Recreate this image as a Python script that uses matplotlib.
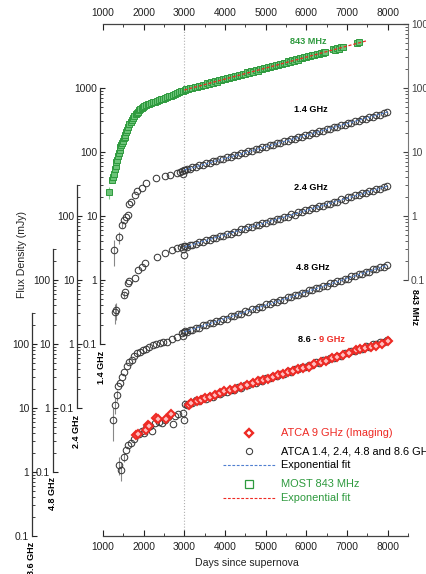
import matplotlib
matplotlib.use('Agg')
import matplotlib.pyplot as plt
from matplotlib.ticker import FixedLocator, FixedFormatter, NullFormatter
from matplotlib.lines import Line2D

plt.rcParams['font.family'] = ['Liberation Sans', 'DejaVu Sans']

# ---------------- data ----------------
late_days = [3010, 3060, 3130, 3200, 3290, 3370, 3450, 3540, 3620, 3700, 3790, 3880, 3960,
             4050, 4140, 4220, 4310, 4400, 4490, 4570, 4660, 4750, 4840, 4920, 5010, 5100,
             5190, 5270, 5360, 5450, 5540, 5620, 5710, 5800, 5890, 5970, 6060, 6150, 6240,
             6320, 6410, 6500, 6590, 6670, 6760, 6850, 6940, 7020, 7110, 7200, 7290, 7370,
             7460, 7550, 7640, 7720, 7810, 7900, 7990]

flux14_late = [51.8, 55.0, 54.6, 58.1, 58.2, 62.5, 61.9, 66.8, 66.5, 71.5, 71.7, 76.9, 77.0,
               82.6, 83.0, 89.0, 88.7, 95.8, 95.6, 102.9, 103.0, 110.5, 110.4, 119.0, 118.8, 128.2,
               128.0, 137.6, 136.5, 148.3, 149.0, 159.6, 158.7, 171.5, 170.9, 184.2, 183.5, 199.0, 197.6,
               213.3, 211.8, 230.1, 228.6, 247.0, 244.9, 266.3, 263.8, 285.9, 283.7, 309.1, 306.0, 330.8,
               328.9, 356.5, 354.7, 382.6, 381.0, 412.0, 421.0]
flux24_late = [33.5, 33.0, 35.3, 35.1, 36.6, 39.4, 39.3, 42.5, 42.2, 45.6, 45.5, 49.3, 49.0,
               53.1, 53.0, 57.2, 57.1, 61.9, 61.8, 66.7, 66.5, 72.2, 71.9, 77.8, 77.5, 84.2,
               83.9, 90.7, 89.6, 98.1, 97.9, 105.7, 105.3, 114.4, 114.0, 123.2, 122.8, 133.4, 132.9,
               143.7, 143.2, 155.5, 154.9, 167.5, 166.9, 181.3, 180.6, 195.3, 194.6, 211.3, 210.6, 227.6,
               226.8, 246.4, 245.5, 265.4, 264.4, 287.2, 293.0]
flux48_late = [15.8, 15.5, 16.8, 16.6, 18.1, 18.0, 19.6, 19.5, 21.3, 21.1, 23.0, 23.0, 25.0,
               25.0, 27.3, 27.1, 29.6, 29.5, 32.3, 32.1, 35.0, 35.0, 38.2, 38.0, 41.5, 41.5,
               45.3, 45.0, 49.1, 48.9, 53.6, 53.3, 58.2, 58.1, 63.4, 63.0, 68.8, 68.7, 75.1,
               74.6, 81.5, 81.3, 88.9, 88.4, 96.5, 96.3, 105.2, 104.6, 114.2, 114.0, 124.5, 123.8,
               135.2, 135.0, 147.4, 146.5, 160.1, 159.8, 171.0]
flux86_late = [11.5, 11.2, 12.1, 11.9, 13.1, 12.9, 14.1, 14.0, 15.2, 15.1, 16.5, 16.4, 17.8,
               17.8, 19.4, 19.3, 21.0, 20.9, 22.9, 22.7, 24.7, 24.7, 26.9, 26.7, 29.1, 29.1,
               31.7, 31.5, 34.3, 34.2, 37.3, 37.1, 40.4, 40.3, 43.9, 43.6, 47.5, 47.4, 51.7,
               51.3, 56.0, 55.9, 60.9, 60.5, 65.9, 65.8, 71.7, 71.2, 77.7, 77.5, 84.4, 83.8,
               91.4, 91.2, 99.4, 98.8, 107.6, 107.4, 115.0]

days14_early = [1269, 1391, 1465, 1514, 1560, 1612, 1636, 1700, 1783, 1832, 1954, 2052, 2297,
                2517, 2639, 2811, 2900, 2950, 2975, 2990]
flux14_early = [2.94, 4.7, 7.2, 8.7, 9.6, 10.4, 15.4, 16.5, 21.3, 24.6, 27.4, 32.8, 39.2,
                42.2, 43.6, 47.0, 48.5, 50.0, 45.0, 51.5]
err14_early = [1.3, 1.0, 0.8, 0, 0, 0, 0, 0, 0, 0, 0, 0, 0, 0, 0, 0, 0, 0, 0, 0]

days24_early = [1294, 1330, 1514, 1530, 1612, 1636, 1783, 1856, 1954, 2028, 2321, 2517, 2688,
                2811, 2920, 2960, 2980, 2995]
flux24_early = [3.16, 3.4, 5.8, 6.4, 9.0, 9.5, 10.7, 14.3, 16.0, 18.4, 22.9, 26.4, 29.4,
                31.6, 32.5, 30.0, 25.0, 33.5]
err24_early = [1.1, 1.0, 0.6, 0, 0, 0, 0, 0, 0, 0, 0, 0, 0, 0, 0, 0, 0, 0]

days48_early = [1245, 1294, 1343, 1367, 1416, 1460, 1520, 1587, 1650, 1710, 1770, 1832, 1900,
                1979, 2050, 2120, 2224, 2300, 2395, 2480, 2566, 2700, 2811, 2933, 2960, 2985]
flux48_early = [0.65, 1.11, 1.6, 2.2, 2.5, 3.0, 3.6, 4.5, 5.2, 5.6, 6.5, 7.2, 7.4,
                8.0, 8.3, 8.9, 9.6, 9.9, 10.4, 10.6, 10.8, 12.0, 12.9, 14.9, 13.4, 15.2]
err48_early = [0.35, 0.3, 0.3, 0, 0, 0, 0, 0, 0, 0, 0, 0, 0, 0, 0, 0, 0, 0, 0, 0, 0, 0, 0, 0, 0, 0]

days86_early = [1391, 1440, 1514, 1563, 1612, 1685, 1760, 1880, 1950, 2000, 2060, 2150, 2200,
                2280, 2380, 2444, 2520, 2600, 2713, 2760, 2850, 2958, 2990]
flux86_early = [1.29, 1.07, 1.71, 2.2, 2.6, 2.84, 3.3, 3.9, 4.4, 4.1, 4.9, 5.3, 4.3,
                5.8, 6.1, 5.9, 6.6, 7.2, 5.6, 7.6, 8.0, 8.3, 6.6]
err86_early = [0.4, 0.35, 0.3, 0, 0, 0, 0, 0, 0, 0, 0, 0, 0, 0, 0, 0, 0, 0, 0, 0, 0, 0, 0]

days9 = [1808, 1850, 2069, 2109, 2140, 2313, 2350, 2558, 2681, 3104, 3160, 3300, 3420, 3500,
         3640, 3750, 3870, 3985, 4120, 4250, 4400, 4548, 4680, 4800, 4930, 5050, 5180, 5300,
         5430, 5550, 5680, 5800, 5930, 6065, 6200, 6350, 6480, 6628, 6760, 6900, 7050, 7215,
         7330, 7450, 7580, 7705, 7850, 7998]
flux9 = [3.79, 3.95, 4.53, 5.42, 5.2, 6.9, 6.7, 6.8, 8.06, 11.1, 11.8, 13.0, 13.5, 14.5,
         15.0, 16.0, 17.2, 18.5, 19.0, 20.0, 21.5, 22.9, 24.5, 26.0, 27.0, 28.0, 30.5, 32.5,
         34.0, 36.0, 38.5, 41.0, 42.5, 44.5, 48.5, 52.0, 55.0, 60.0, 63.0, 67.0, 73.0, 80.0,
         83.0, 87.0, 90.0, 92.0, 101.0, 111.0]

days843 = [1147, 1230, 1250, 1270, 1290, 1310, 1330, 1350, 1370, 1390, 1410, 1430, 1450, 1470,
           1490, 1510, 1530, 1550, 1575, 1600, 1625, 1650, 1680, 1710, 1740, 1770, 1800, 1830,
           1860, 1890, 1920, 1950, 1985, 2020, 2060, 2100, 2140, 2180, 2224, 2270, 2320, 2370,
           2420, 2470, 2520, 2566, 2620, 2670, 2720, 2770, 2811, 2860, 2910, 2960, 3006,
           3050, 3100, 3150, 3200, 3250, 3300, 3350, 3400, 3450, 3500, 3550, 3600, 3650, 3700,
           3750, 3800, 3850, 3900, 3950, 4000, 4050, 4100, 4150, 4200, 4250, 4300, 4350, 4400,
           4450, 4500, 4550, 4600, 4650, 4700, 4750, 4800, 4850, 4900, 4950, 5000, 5050, 5100,
           5150, 5200, 5250, 5300, 5350, 5400, 5450, 5500, 5550, 5600, 5650, 5700, 5750, 5800,
           5850, 5900, 5950, 6000, 6050, 6100, 6150, 6200, 6250, 6300, 6350, 6400, 6430, 6450,
           6650, 6700, 6750, 6800, 6850, 6900, 7250, 7300]
flux843 = [2.37, 3.6, 4.1, 4.6, 5.4, 6.0, 6.9, 7.6, 8.7, 9.5, 10.6, 11.8, 12.8, 14.0,
           15.0, 16.3, 17.0, 18.6, 20.5, 22.4, 24.5, 27.0, 29.5, 32.0, 34.5, 36.5, 38.8, 40.7,
           42.5, 44.8, 46.5, 48.6, 50.5, 52.0, 53.8, 55.5, 57.0, 58.5, 60.4, 61.5, 63.5, 65.0,
           67.0, 68.5, 70.5, 72.3, 74.0, 76.0, 79.0, 81.5, 83.6, 86.0, 88.5, 91.0, 93.0,
           95.8, 95.5, 99.9, 99.6, 104.0, 103.6, 108.5, 107.9, 112.9, 112.0, 117.6, 116.6, 122.4, 121.0,
           127.5, 126.0, 132.5, 131.0, 138.0, 136.5, 143.5, 142.0, 149.0, 147.5, 155.0, 153.8, 161.5, 159.6,
           168.0, 166.3, 174.8, 172.9, 182.0, 179.8, 189.3, 186.9, 197.0, 194.6, 205.0, 202.4, 213.3, 210.6,
           221.8, 219.0, 230.7, 228.0, 240.1, 237.3, 249.8, 246.8, 259.8, 256.8, 270.4, 267.2, 281.2, 278.0,
           292.6, 289.2, 304.4, 300.9, 316.7, 313.0, 329.5, 325.6, 342.8, 338.9, 356.7, 352.5, 371.0, 360.0,
           401.0, 397.0, 417.5, 413.0, 434.0, 430.0, 508.0, 530.0]

fit_days = [3000, 8000]
fit14 = [52.3, 422.0]
fit24 = [32.8, 294.0]
fit48 = [15.4, 171.0]
fit86 = [11.1, 115.0]
fit843_days = [3000, 7500]
fit843 = [93.0, 550.0]

# ---------------- figure ----------------
W, H = 427, 574
fig = plt.figure(figsize=(W / 100, H / 100), dpi=100)
ax = fig.add_axes([103 / W, 1 - 536 / H, 305 / W, 512 / H])
ax.set_xlim(1000, 8465)
ax.set_yscale('log')
ax.set_ylim(1e-5, 1e3)

AXW = 305.0
TICKC = '#222222'
FS = 7.4


def make_axis(scale, spine_px, lo, hi):
    tw = ax.twinx()
    tw.set_yscale('log')
    tw.set_ylim(1e-5 / scale, 1e3 / scale)
    for s in ['top', 'bottom', 'right']:
        tw.spines[s].set_visible(False)
    sp = tw.spines['left']
    sp.set_visible(True)
    sp.set_position(('axes', -spine_px / AXW))
    sp.set_bounds(lo, hi)
    sp.set_color('#333333')
    sp.set_linewidth(0.9)
    majors = [v for v in [0.1, 1, 10, 100, 1000] if lo <= v <= hi]
    labs = [('%g' % v) for v in majors]
    minors = [m * 10.0 ** e for e in range(-1, 3) for m in range(2, 10) if lo <= m * 10.0 ** e <= hi]
    tw.yaxis.set_major_locator(FixedLocator(majors))
    tw.yaxis.set_major_formatter(FixedFormatter(labs))
    tw.yaxis.set_minor_locator(FixedLocator(minors))
    tw.yaxis.set_minor_formatter(NullFormatter())
    tw.yaxis.set_ticks_position('left')
    tw.tick_params(axis='y', which='both', direction='in', left=True, right=False,
                   labelleft=True, labelright=False, colors=TICKC, labelsize=FS, pad=2)
    tw.tick_params(axis='y', which='major', length=3.5, width=0.8)
    tw.tick_params(axis='y', which='minor', length=2, width=0.6)
    return tw


ax14 = make_axis(0.1, 3, 0.1, 1000)
ax24 = make_axis(0.01, 26, 0.1, 300)
ax48 = make_axis(0.001, 50, 0.1, 300)
ax86 = make_axis(0.0001, 71, 0.1, 300)

# main axes: 843 MHz scale on right
ax.spines['left'].set_visible(False)
ax.spines['right'].set_bounds(0.1, 1000)
ax.spines['right'].set_color('#777777')
for s in ['top', 'bottom']:
    ax.spines[s].set_color('#444444')
    ax.spines[s].set_linewidth(0.9)
ax.yaxis.tick_right()
ax.yaxis.set_major_locator(FixedLocator([0.1, 1, 10, 100, 1000]))
ax.yaxis.set_major_formatter(FixedFormatter(['0.1', '1', '10', '100', '1000']))
ax.yaxis.set_minor_locator(FixedLocator([m * 10.0 ** e for e in range(-1, 3) for m in range(2, 10)]))
ax.yaxis.set_minor_formatter(NullFormatter())
ax.tick_params(axis='y', which='both', direction='in', left=False, right=True,
               labelleft=False, labelright=True, colors='#444444', labelsize=FS, pad=2)
ax.tick_params(axis='y', which='major', length=3.5)
ax.tick_params(axis='y', which='minor', length=2)

ax.set_xticks([1000, 2000, 3000, 4000, 5000, 6000, 7000, 8000])
ax.set_xticks([1500, 2500, 3500, 4500, 5500, 6500, 7500, 8500], minor=True)
ax.tick_params(axis='x', which='both', direction='in', top=True, bottom=True,
               labeltop=True, labelbottom=True, colors=TICKC, labelsize=FS, pad=4)
ax.tick_params(axis='x', which='major', length=4)
ax.tick_params(axis='x', which='minor', length=2.5)

# vertical reference line at day 3000
ax.axvline(3000, color='#b0b0b0', linestyle=':', linewidth=0.8, zorder=0)

GREEN = '#2e9a3e'
RED = '#ee2a24'
BLUE = '#4f7fd0'
GREY = '#3a3a3a'

circ = dict(marker='o', linestyle='none', markersize=4.7, markerfacecolor='none',
            markeredgecolor=GREY, markeredgewidth=0.75)

for tw, de, fe, ee, fl, fit in [
        (ax14, days14_early, flux14_early, err14_early, flux14_late, fit14),
        (ax24, days24_early, flux24_early, err24_early, flux24_late, fit24),
        (ax48, days48_early, flux48_early, err48_early, flux48_late, fit48),
        (ax86, days86_early, flux86_early, err86_early, flux86_late, fit86)]:
    tw.errorbar(de, fe, yerr=ee, fmt='none', ecolor='#888888', elinewidth=0.8, capsize=0)
    tw.plot(de, fe, **circ)
    tw.plot(late_days, fl, **circ)
    tw.plot(fit_days, fit, linestyle=(0, (2.5, 1.5)), color=BLUE, linewidth=0.8)

ax86.plot(days9, flux9, marker='D', linestyle='none', markersize=4.2, markerfacecolor='#ffc0c0',
          markeredgecolor=RED, markeredgewidth=1.5)

ax.errorbar(days843[:1], flux843[:1], yerr=[0.5], fmt='none', ecolor='#7fcf8a', elinewidth=0.8)
ax.plot(days843, flux843, marker='s', linestyle='none', markersize=3.7, markerfacecolor='#6cc478',
        markeredgecolor=GREEN, markeredgewidth=0.7)
ax.plot(fit843_days, fit843, linestyle=(0, (2.5, 1.5)), color=RED, linewidth=0.9)


# ---------------- texts ----------------
def fx(px):
    return px / W


def fy(py):
    return 1 - py / H


fig.text(fx(308), fy(41), '843 MHz', color=GREEN, fontsize=6.6, fontweight='bold', ha='center', va='center')
fig.text(fx(311), fy(110), '1.4 GHz', color='black', fontsize=6.6, fontweight='bold', ha='center', va='center')
fig.text(fx(311), fy(187), '2.4 GHz', color='black', fontsize=6.6, fontweight='bold', ha='center', va='center')
fig.text(fx(313), fy(267), '4.8 GHz', color='black', fontsize=6.6, fontweight='bold', ha='center', va='center')
fig.text(fx(319), fy(340), '8.6 - ', color='black', fontsize=6.6, fontweight='bold', ha='right', va='center')
fig.text(fx(319), fy(340), '9 GHz', color=RED, fontsize=6.6, fontweight='bold', ha='left', va='center')

fig.text(fx(102), fy(367), '1.4 GHz', rotation=90, fontsize=6.5, fontweight='bold', ha='center', va='center')
fig.text(fx(77), fy(431), '2.4 GHz', rotation=90, fontsize=6.5, fontweight='bold', ha='center', va='center')
fig.text(fx(53), fy(494), '4.8 GHz', rotation=90, fontsize=6.5, fontweight='bold', ha='center', va='center')
fig.text(fx(32), fy(558), '8.6 GHz', rotation=90, fontsize=6.5, fontweight='bold', ha='center', va='center')
fig.text(fx(415), fy(307), '843 MHz', rotation=270, fontsize=6.5, fontweight='bold', ha='center', va='center')

fig.text(fx(22), fy(255), 'Flux Density (mJy)', rotation=90, fontsize=7.6, color='#222222', ha='center', va='center')
fig.text(fx(247), fy(563), 'Days since supernova', fontsize=7.6, color='#222222', ha='center', va='center')

# ---------------- legend ----------------
leg_rows = [
    ('marker', 'D', RED, 'ATCA 9 GHz (Imaging)', RED, 433),
    ('marker', 'o', GREY, 'ATCA 1.4, 2.4, 4.8 and 8.6 GHz', 'black', 451),
    ('line', None, BLUE, 'Exponential fit', 'black', 465),
    ('marker', 's', GREEN, 'MOST 843 MHz', GREEN, 484),
    ('line', None, RED, 'Exponential fit', GREEN, 498),
]
for kind, mk, col, lab, tcol, py in leg_rows:
    if kind == 'marker':
        kw = dict(marker=mk, linestyle='none', markerfacecolor='white', markeredgecolor=col)
        if mk == 'D':
            kw.update(markersize=4.2, markeredgewidth=1.7)
        elif mk == 'o':
            kw.update(markersize=4.5, markeredgewidth=0.75)
        else:
            kw.update(markersize=6.0, markeredgewidth=0.9)
        fig.add_artist(Line2D([fx(249)], [fy(py)], transform=fig.transFigure, **kw))
    else:
        fig.add_artist(Line2D([fx(223), fx(276)], [fy(py), fy(py)], transform=fig.transFigure,
                              color=col, linewidth=0.8, linestyle=(0, (2.5, 1.5))))
    fig.text(fx(281), fy(py), lab, color=tcol, fontsize=7.9, ha='left', va='center')

fig.savefig('out.png', dpi=100)
